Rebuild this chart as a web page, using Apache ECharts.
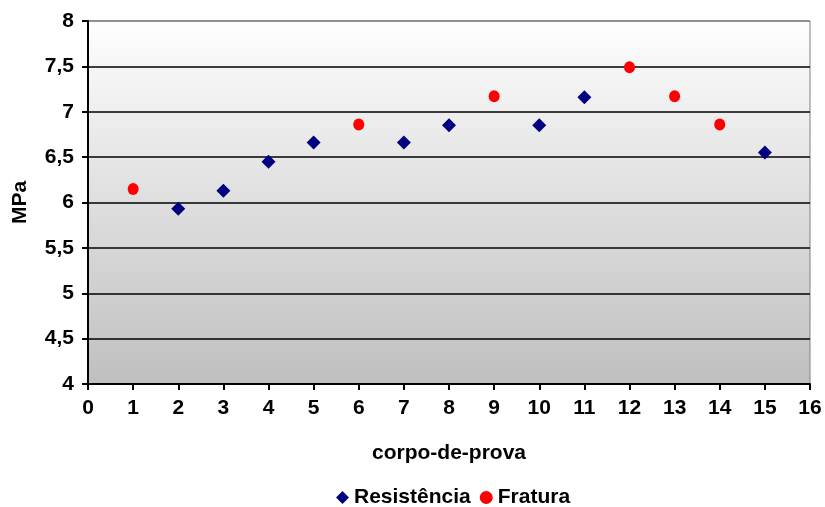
<!DOCTYPE html>
<html>
<head>
<meta charset="utf-8">
<script src="https://cdn.jsdelivr.net/npm/echarts@6/dist/echarts.min.js"></script>
<style>
  html, body { margin: 0; padding: 0; background: #fff; }
  #chart { width: 825px; height: 507px; }
</style>
</head>
<body>
<div id="chart"></div>
<script>
// Specimen numbers and measured values (MPa)
const resistenciaX = [2, 3, 4, 5, 7, 8, 10, 11, 15];
const resistenciaY = [5.93, 6.13, 6.45, 6.66, 6.66, 6.85, 6.85, 7.16, 6.55];
const fraturaX = [1, 6, 9, 12, 13, 14];
const fraturaY = [6.15, 6.86, 7.17, 7.49, 7.17, 6.86];
const seriesNames = ['Resistência', 'Fratura'];

const pairs = (xs, ys) => xs.map((x, i) => [x, ys[i]]);

const chart = echarts.init(document.getElementById('chart'));
const font = 'Liberation Sans, Arial, sans-serif';
const fs = 21;

chart.setOption({
  animation: false,
  grid: {
    left: 88, right: 15, top: 21, bottom: 123,
    show: true,
    borderColor: '#808080',
    borderWidth: 1,
    backgroundColor: new echarts.graphic.LinearGradient(0, 0, 0, 1, [
      { offset: 0, color: '#fefefe' },
      { offset: 1, color: '#bfbfbf' }
    ])
  },
  legend: {
    data: seriesNames,
    top: 482,
    left: 331,
    itemGap: 9,
    itemWidth: 13,
    itemHeight: 13,
    textStyle: { fontFamily: font, fontWeight: 'bold', fontSize: fs, color: '#000' }
  },
  xAxis: {
    type: 'value',
    min: 0, max: 16, interval: 1,
    name: 'corpo-de-prova',
    nameLocation: 'middle',
    nameGap: 59,
    nameTextStyle: { fontFamily: font, fontWeight: 'bold', fontSize: fs, color: '#000' },
    axisLine: { show: true, lineStyle: { color: '#000', width: 2 } },
    axisTick: { show: true, length: 6, lineStyle: { color: '#000', width: 2 } },
    axisLabel: { fontFamily: font, fontWeight: 'bold', fontSize: fs, color: '#000', margin: 14 },
    splitLine: { show: false }
  },
  yAxis: {
    type: 'value',
    min: 4, max: 8, interval: 0.5,
    name: 'MPa',
    nameLocation: 'middle',
    nameGap: 57,
    nameTextStyle: { fontFamily: font, fontWeight: 'bold', fontSize: fs, color: '#000' },
    axisLine: { show: true, lineStyle: { color: '#000', width: 2 } },
    axisTick: { show: true, length: 6, lineStyle: { color: '#000', width: 2 } },
    axisLabel: {
      fontFamily: font, fontWeight: 'bold', fontSize: fs, color: '#000', margin: 14,
      formatter: v => String(v).replace('.', ',')
    },
    splitLine: {
      show: true,
      lineStyle: {
        width: 1.5,
        color: ['#000', '#000', '#000', '#000', '#000', '#000', '#000', '#000', '#808080']
      }
    }
  },
  series: [
    {
      name: seriesNames[0],
      type: 'scatter',
      symbol: 'diamond',
      symbolSize: 14,
      itemStyle: { color: '#000080', opacity: 1 },
      data: pairs(resistenciaX, resistenciaY)
    },
    {
      name: seriesNames[1],
      type: 'scatter',
      symbol: 'circle',
      symbolSize: [11, 12],
      itemStyle: { color: '#ff0000', opacity: 1 },
      data: pairs(fraturaX, fraturaY)
    }
  ]
});
</script>
</body>
</html>
